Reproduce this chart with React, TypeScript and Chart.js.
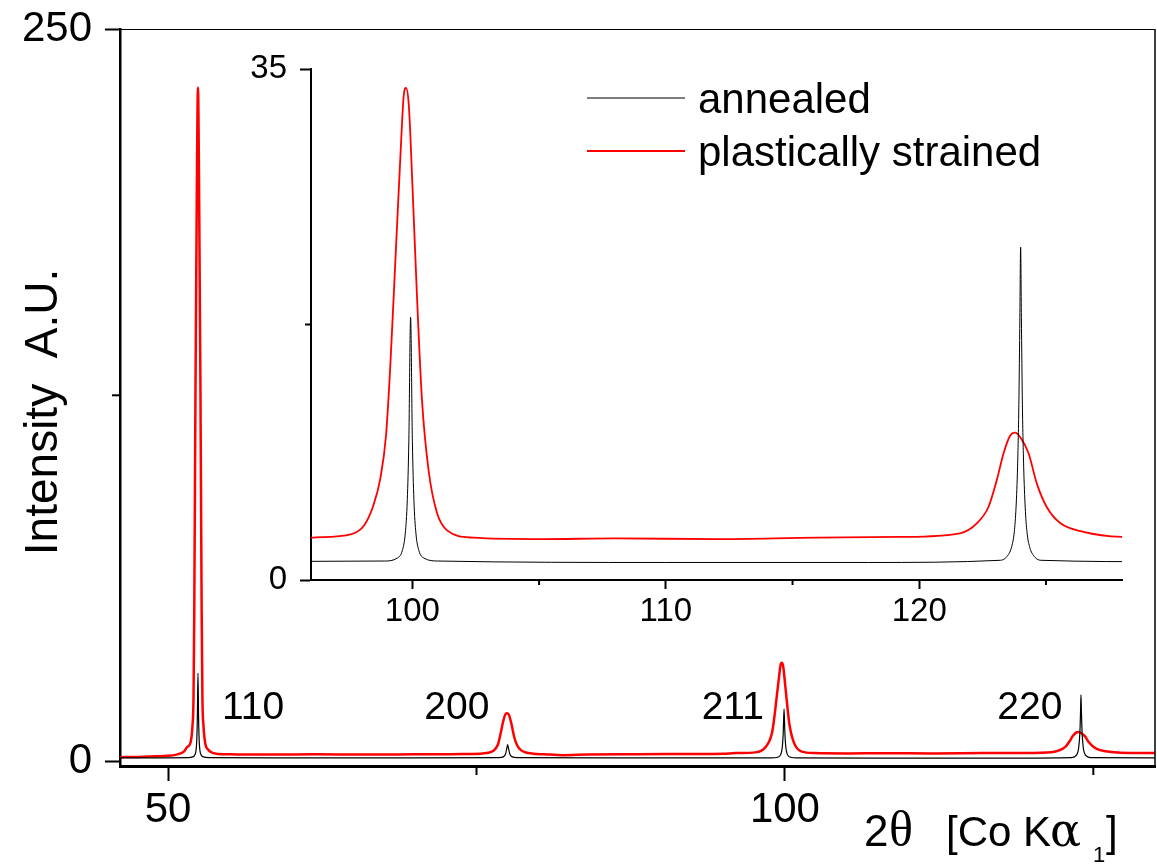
import React, { useEffect, useRef } from 'react';
import { Chart, registerables } from 'chart.js';

Chart.register(...registerables);

const FONT = "'Liberation Sans', Arial, Helvetica, sans-serif";
const SERIF = "'Liberation Serif', 'DejaVu Serif', 'Times New Roman', serif";
const SERIF_WIDE = "'DejaVu Serif', 'Liberation Serif', serif";

// ---------- data ----------
const seriesLabels = ['annealed', 'plastically strained'];

const annealedTheta = [
  46.0, 50.0, 51.6, 52.0, 52.15, 52.25, 52.32, 52.37, 52.42, 52.47, 52.52, 52.59, 52.69, 52.85, 53.3,
  60.0, 70.0, 76.8, 77.2, 77.35, 77.45, 77.52, 77.6, 77.7, 77.85, 78.3,
  88.0, 98.9, 99.4, 99.6, 99.72, 99.8, 99.86, 99.93, 100.0, 100.06, 100.14, 100.26, 100.46, 101.0,
  110.0, 118.0, 123.2, 123.5, 123.65, 123.75, 123.82, 123.88, 123.93, 123.97, 124.0, 124.03, 124.07,
  124.12, 124.18, 124.25, 124.35, 124.5, 124.8, 130.0,
];
const annealedIntensity = [
  1.3, 1.3, 1.35, 1.6, 2.2, 3.5, 7, 15, 30.2, 15, 7, 3.5, 2.2, 1.6, 1.35,
  1.3, 1.3, 1.35, 1.7, 2.6, 4.4, 5.8, 4.4, 2.6, 1.7, 1.35,
  1.25, 1.3, 1.5, 2.0, 3.2, 5.5, 9.5, 18.0, 9.5, 5.5, 3.2, 2.0, 1.5, 1.3,
  1.2, 1.2, 1.35, 1.7, 2.3, 3.3, 5.0, 7.8, 12.0, 18.0, 22.8, 18.0, 12.0,
  7.8, 5.0, 3.3, 2.3, 1.7, 1.35, 1.25,
];

const strainedTheta = [
  46.0, 47.5, 49.0, 50.0, 50.6, 51.0, 51.3, 51.55, 51.82, 51.97, 52.06, 52.12, 52.22, 52.32, 52.42,
  52.52, 52.62, 52.72, 52.78, 52.87, 53.02, 53.22, 53.5, 53.9, 55.0, 58.0, 62.0, 66.0, 70.0, 74.0,
  75.5, 76.2, 76.5, 76.75, 76.95, 77.15, 77.35, 77.5, 77.65, 77.85, 78.05, 78.3, 78.6, 79.0, 79.6, 80.5,
  82.0, 84.0, 88.0, 92.0, 95.0, 96.0, 97.6, 98.1, 98.46, 98.74, 98.96, 99.13, 99.33, 99.53, 99.66, 99.75,
  99.86, 100.01, 100.18, 100.38, 100.64, 100.97, 101.37, 102.4, 105.1, 108.0, 112.0, 116.0, 119.25,
  121.6, 122.28, 122.73, 123.06, 123.33, 123.59, 123.79, 123.98, 124.31, 124.64, 125.03, 125.56, 126.48,
  128.0, 130.0,
];
const strainedIntensity = [
  1.5, 1.6, 1.8, 2.0, 2.3, 2.8, 3.5, 5.0, 6.5, 12, 22, 51, 128, 190, 230,
  190, 128, 51, 22, 12, 6, 4.2, 3.2, 2.7, 2.5, 2.4, 2.5, 2.4, 2.5, 2.6,
  2.8, 3.3, 4.2, 6.0, 9.5, 13.5, 16.2, 16.5, 15.7, 12.5, 8.5, 5.5, 3.9, 3.1, 2.7, 2.5,
  2.2, 2.4, 2.5, 2.6, 2.7, 2.9, 3.15, 3.75, 5.1, 7.0, 9.9, 14.7, 21.9, 29.1, 33.2, 33.7,
  32.5, 26.7, 19.5, 12.3, 7.5, 4.6, 3.4, 2.9, 2.8, 2.85, 2.8, 2.9, 2.95,
  3.2, 3.9, 5.0, 6.85, 8.7, 9.9, 10.1, 9.8, 8.7, 6.6, 5.0, 3.9, 3.3,
  2.95, 2.9,
];

const peakHkl = ['110', '200', '211', '220'];
const peakTheta = [52.42, 77.5, 99.75, 123.95];

const mainXTicks = [50, 100];
const mainXMinor = [75, 125];
const mainYTicks = [0, 250];
const mainYMinor = [125];
const insetXTicks = [100, 110, 120];
const insetXMinor = [105, 115, 125];
const insetYTicks = [0, 35];
const insetYMinor = [17.5];

const yTitle = 'Intensity  A.U.';
const xTitleParts = ['2', 'θ', '[Co K', 'α', '1', ']'];

// ---------- helpers ----------
const toPoints = (xs: number[], ys: number[]) => xs.map((x, i) => ({ x, y: ys[i] }));
const fixedTicks = (values: number[]) => (scale: any) => {
  scale.ticks = values.map((v) => ({ value: v }));
};
const fitTo = (prop: 'width' | 'height', size: number) => (s: any) => {
  s[prop] = size;
  s.paddingTop = 0;
  s.paddingBottom = 0;
  s.paddingLeft = 0;
  s.paddingRight = 0;
};

function makeDatasets(blackW: number, redW: number) {
  return [
    {
      label: seriesLabels[0],
      data: toPoints(annealedTheta, annealedIntensity),
      borderColor: '#000000',
      borderWidth: blackW,
      borderJoinStyle: 'round',
      pointRadius: 0,
      cubicInterpolationMode: 'monotone',
      fill: false,
    },
    {
      label: seriesLabels[1],
      data: toPoints(strainedTheta, strainedIntensity),
      borderColor: '#ff0000',
      borderWidth: redW,
      borderJoinStyle: 'round',
      pointRadius: 0,
      cubicInterpolationMode: 'monotone',
      fill: false,
    },
  ];
}

function drawMinor(chart: any, xs: number[], ys: number[], xLen: number, yLen: number, w: number) {
  const { ctx, chartArea: a, scales } = chart;
  ctx.save();
  ctx.strokeStyle = '#000';
  ctx.lineWidth = w;
  xs.forEach((v) => {
    const px = scales.x.getPixelForValue(v);
    ctx.beginPath();
    ctx.moveTo(px, a.bottom);
    ctx.lineTo(px, a.bottom + xLen);
    ctx.stroke();
  });
  ys.forEach((v) => {
    const py = scales.y.getPixelForValue(v);
    ctx.beginPath();
    ctx.moveTo(a.left - yLen, py);
    ctx.lineTo(a.left, py);
    ctx.stroke();
  });
  ctx.restore();
}

const mainDecor = {
  id: 'mainDecor',
  afterDraw(chart: any) {
    const { ctx, chartArea: a, scales } = chart;
    const x = scales.x;
    const y = scales.y;
    ctx.save();
    // frame top / right
    ctx.strokeStyle = '#000';
    ctx.lineWidth = 1.2;
    ctx.beginPath();
    ctx.moveTo(a.left, a.top + 0.5);
    ctx.lineTo(a.right, a.top + 0.5);
    ctx.stroke();
    ctx.lineWidth = 1.5;
    ctx.beginPath();
    ctx.moveTo(a.right, a.top);
    ctx.lineTo(a.right, a.bottom);
    ctx.stroke();
    ctx.restore();

    drawMinor(chart, mainXMinor, mainYMinor, 9, 8, 2);

    ctx.save();
    ctx.fillStyle = '#000';
    // peak labels
    ctx.font = `39px ${FONT}`;
    ctx.textBaseline = 'alphabetic';
    const base = y.getPixelForValue(0) - 42.5;
    peakHkl.forEach((t, i) => {
      const px = x.getPixelForValue(peakTheta[i]);
      if (i === 0) {
        ctx.textAlign = 'left';
        ctx.fillText(t, px + 24, base);
      } else {
        ctx.textAlign = 'right';
        ctx.fillText(t, px - 18, base);
      }
    });

    // x-axis title
    ctx.textAlign = 'left';
    const bl = 846;
    const fonts = [
      `44px ${FONT}`,
      `50px ${SERIF}`,
      `42px ${FONT}`,
      `46px ${SERIF_WIDE}`,
      `22px ${FONT}`,
      `42px ${FONT}`,
    ];
    const starts = [864, 889, 946, 1050, 1093, 1106];
    const dys = [0, 0, 0, 0, 16, 0];
    xTitleParts.forEach((p, i) => {
      ctx.font = fonts[i];
      ctx.fillText(p, starts[i], bl + dys[i]);
    });

    // y-axis title
    ctx.translate(57, 412);
    ctx.rotate(-Math.PI / 2);
    ctx.textAlign = 'center';
    ctx.font = `46px ${FONT}`;
    ctx.fillText(yTitle, 0, 0);
    ctx.restore();
  },
};

const insetDecor = {
  id: 'insetDecor',
  afterDraw(chart: any) {
    drawMinor(chart, insetXMinor, insetYMinor, 5, 6, 2);
    const { ctx, chartArea: a } = chart;
    ctx.save();
    const ds = chart.data.datasets;
    ctx.font = `42px ${FONT}`;
    ctx.textAlign = 'left';
    ctx.textBaseline = 'alphabetic';
    ds.forEach((d: any, i: number) => {
      const ly = a.top + 29 + i * 53;
      ctx.strokeStyle = d.borderColor;
      ctx.lineWidth = i === 0 ? 1.2 : 2;
      ctx.beginPath();
      ctx.moveTo(a.left + 276, ly);
      ctx.lineTo(a.left + 374, ly);
      ctx.stroke();
      ctx.fillStyle = '#000';
      ctx.fillText(d.label, a.left + 387, ly + 15);
    });
    ctx.restore();
  },
};

export default function App() {
  const mainRef = useRef<HTMLCanvasElement>(null);
  const insetRef = useRef<HTMLCanvasElement>(null);

  useEffect(() => {
    if (!mainRef.current || !insetRef.current) return;

    const main = new Chart(mainRef.current, {
      type: 'line',
      data: { datasets: makeDatasets(1.2, 2.5) as any },
      options: {
        animation: false,
        responsive: false,
        devicePixelRatio: 1,
        events: [],
        layout: { padding: { top: 29, right: 2, left: 0, bottom: 0 } },
        plugins: { legend: { display: false }, tooltip: { enabled: false } },
        scales: {
          x: {
            type: 'linear',
            min: 46.1,
            max: 130,
            afterBuildTicks: fixedTicks(mainXTicks),
            afterFit: fitTo('height', 98),
            grid: { drawOnChartArea: false, drawTicks: true, tickLength: 15, tickWidth: 2, tickColor: '#000' },
            border: { display: true, color: '#000', width: 3 },
            ticks: { color: '#000', font: { family: FONT, size: 42 }, padding: 4, maxRotation: 0, autoSkip: false },
          },
          y: {
            type: 'linear',
            min: -1.5,
            max: 250,
            afterBuildTicks: fixedTicks(mainYTicks),
            afterFit: fitTo('width', 120),
            grid: { drawOnChartArea: false, drawTicks: true, tickLength: 15, tickWidth: 2, tickColor: '#000' },
            border: { display: true, color: '#000', width: 2.5 },
            ticks: { color: '#000', font: { family: FONT, size: 42 }, padding: 13, autoSkip: false },
          },
        },
      } as any,
      plugins: [mainDecor],
    });

    const inset = new Chart(insetRef.current, {
      type: 'line',
      data: { datasets: makeDatasets(1, 1.8) as any },
      options: {
        animation: false,
        responsive: false,
        devicePixelRatio: 1,
        events: [],
        layout: { padding: { top: 29, right: 35, left: 0, bottom: 0 } },
        plugins: { legend: { display: false }, tooltip: { enabled: false } },
        scales: {
          x: {
            type: 'linear',
            min: 96,
            max: 128,
            afterBuildTicks: fixedTicks(insetXTicks),
            afterFit: fitTo('height', 60),
            grid: { drawOnChartArea: false, drawTicks: true, tickLength: 9, tickWidth: 2, tickColor: '#000' },
            border: { display: true, color: '#000', width: 2 },
            ticks: { color: '#000', font: { family: FONT, size: 33 }, padding: 3, maxRotation: 0, autoSkip: false },
          },
          y: {
            type: 'linear',
            min: 0,
            max: 35,
            afterBuildTicks: fixedTicks(insetYTicks),
            afterFit: fitTo('width', 81),
            grid: { drawOnChartArea: false, drawTicks: true, tickLength: 11, tickWidth: 2, tickColor: '#000' },
            border: { display: true, color: '#000', width: 2 },
            ticks: { color: '#000', font: { family: FONT, size: 33 }, padding: 13, autoSkip: false },
          },
        },
      } as any,
      plugins: [insetDecor],
    });

    return () => {
      main.destroy();
      inset.destroy();
    };
  }, []);

  return (
    <div style={{ position: 'absolute', left: 0, top: 0, width: 1157, height: 864, background: '#fff' }}>
      <canvas ref={mainRef} width={1157} height={864} style={{ position: 'absolute', left: 0, top: 0 }} />
      <canvas ref={insetRef} width={927} height={600} style={{ position: 'absolute', left: 230, top: 40 }} />
    </div>
  );
}
